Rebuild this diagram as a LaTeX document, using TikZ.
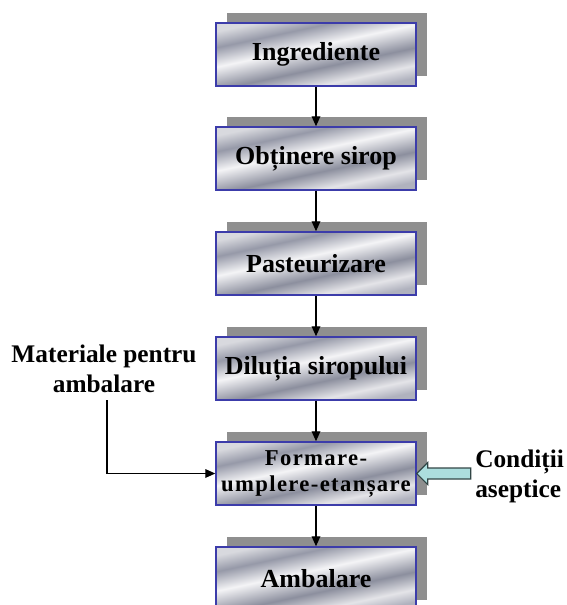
\documentclass[tikz,border=0pt]{standalone}
\usepackage{fontspec}
\setmainfont{Liberation Serif}
\newfontfamily\spacedserif[LetterSpace=6]{Liberation Serif}
\usetikzlibrary{arrows.meta,calc,shadows}

\definecolor{boxblue}{RGB}{60,60,170}
\definecolor{shgray}{RGB}{143,143,143}
\definecolor{aquafill}{RGB}{172,222,222}
\definecolor{aquaedge}{RGB}{50,70,70}
\definecolor{mA}{RGB}{176,178,190}
\definecolor{mB}{RGB}{228,228,232}
\definecolor{mC}{RGB}{140,143,158}
\definecolor{mD}{RGB}{244,244,246}
\definecolor{mE}{RGB}{150,153,168}
\definecolor{mF}{RGB}{216,217,222}

% brushed-metal fill for the process boxes
\pgfdeclareverticalshading{silverbar}{100bp}{%
  color(0bp)=(mA); color(25bp)=(mA); color(32bp)=(mB); color(42bp)=(mC);
  color(55bp)=(mD); color(66bp)=(mE); color(75bp)=(mF); color(100bp)=(mF)}

\tikzset{
  stepbox/.style={draw=boxblue, line width=1.1pt, shading=silverbar,
    shading angle=12, minimum width=150pt, minimum height=47.25pt,
    inner sep=0pt, align=center,
    font=\bfseries\fontsize{19.5}{22.5}\selectfont,
    general shadow={fill=shgray, shadow xshift=8.25pt, shadow yshift=7.5pt}},
  smallstep/.style={stepbox, font=\spacedserif\bfseries\fontsize{17}{19.5}\selectfont},
  sidelabel/.style={inner sep=0pt, font=\bfseries\fontsize{19}{22.5}\selectfont},
  flow/.style={line width=0.9pt, -{Triangle[length=7.5pt,width=6.5pt]}},
  blockarrow/.style={fill=aquafill, draw=aquaedge, line width=0.8pt, line join=miter}
}

\begin{document}
\begin{tikzpicture}[x=0.75pt, y=-0.75pt]
  \useasboundingbox (0,0) rectangle (566,605);
  \clip (0,0) rectangle (566,605);

  % process chain
  \node[stepbox] (ing) at (316,54.5)  {Ingrediente};
  \node[stepbox] (obt) at (316,158.5) {Obținere sirop};
  \node[stepbox] (pas) at (316,263.5) {Pasteurizare};
  \node[stepbox] (dil) at (316,368.5) {Diluția siropului};
  \node[smallstep] (frm) at (316,473.5) {Formare-\\umplere-etanșare};
  \node[stepbox] (amb) at (316,578.5) {Ambalare};

  \draw[flow] (ing.south) -- (obt.north);
  \draw[flow] (obt.south) -- (pas.north);
  \draw[flow] (pas.south) -- (dil.north);
  \draw[flow] (dil.south) -- (frm.north);
  \draw[flow] (frm.south) -- (amb.north);

  % packaging materials input
  \node[sidelabel, align=center, anchor=south] (mat) at (104,393)
    {Materiale pentru\\ambalare};
  \coordinate (mbend) at (107,473.5);
  \draw[flow, shorten <=5.25pt] (mat.south -| mbend) -- (mbend) -- (frm.west);

  % aseptic conditions input
  \node[sidelabel, align=left, anchor=west] (asp) at (475,476.5)
    {Condiții\\aseptice};
  \draw[blockarrow] (frm.east) -- ++(11,-11) -- ++(0,5.5) -- ++(43,0)
    -- ++(0,11) -- ++(-43,0) -- ++(0,5.5) -- cycle;
\end{tikzpicture}
\end{document}
